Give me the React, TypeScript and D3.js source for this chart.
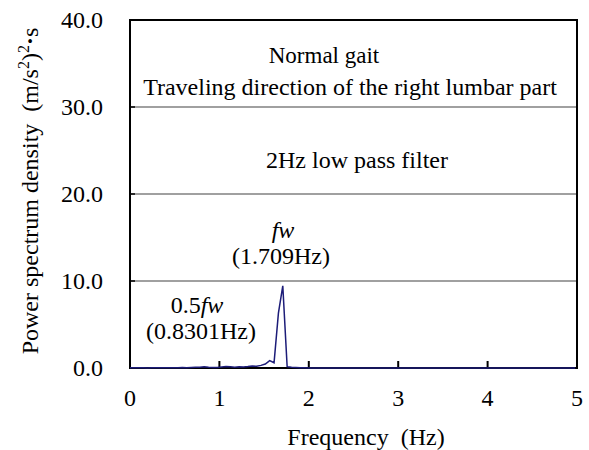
import React from "react";
import { scaleLinear, line } from "d3";

// frequency resolution of the FFT: 100 Hz sampling, 2048 points
const binWidth = 100 / 2048;

// power spectrum density per bin (bin 0 .. 102, up to 5 Hz)
const psdValues = [
  0.02, 0.03, 0.02, 0.02, 0.01, 0.02, 0.03, 0.02, 0.03, 0.04,
  0.03, 0.04, 0.05, 0.04, 0.06, 0.08, 0.1, 0.15, 0.1, 0.07,
  0.06, 0.12, 0.18, 0.15, 0.1, 0.14, 0.12, 0.16, 0.22, 0.2,
  0.3, 0.45, 0.85, 0.6, 6.3, 9.45, 0.15, 0.08, 0.05, 0.03,
  0.02, 0.01, 0.01, 0.01, 0.01, 0.01, 0.01, 0.01, 0.01, 0.01,
  0.01, 0.01, 0.01, 0.01, 0.01, 0.01, 0.01, 0.01, 0.01, 0.01,
  0.01, 0.01, 0.01, 0.01, 0.01, 0.01, 0.01, 0.01, 0.01, 0.01,
  0.01, 0.01, 0.01, 0.01, 0.01, 0.01, 0.01, 0.01, 0.01, 0.01,
  0.01, 0.01, 0.01, 0.01, 0.01, 0.01, 0.01, 0.01, 0.01, 0.01,
  0.01, 0.01, 0.01, 0.01, 0.01, 0.01, 0.01, 0.01, 0.01, 0.01,
  0.01, 0.01, 0.01,
];

const xTicks = [0, 1, 2, 3, 4, 5];
const yTicks = [0, 10, 20, 30, 40];

const font = "'Liberation Serif', 'Times New Roman', serif";

export default function App() {
  const width = 589;
  const height = 450;
  const margin = { top: 20, right: 12, bottom: 82, left: 130 };

  const x = scaleLinear().domain([0, 5]).range([margin.left, width - margin.right]);
  const y = scaleLinear().domain([0, 40]).range([height - margin.bottom, margin.top]);

  const pts = psdValues.map((v, i) => [i * binWidth, v] as [number, number]);
  const path = line<[number, number]>()
    .x((d) => x(d[0]))
    .y((d) => y(d[1]))(pts);

  const fs = 24;

  return (
    <svg
      width={width}
      height={height}
      style={{ position: "absolute", left: 0, top: 0, background: "#fff" }}
      fontFamily={font}
      fontSize={fs}
    >
      {/* grid lines */}
      {yTicks.slice(1, -1).map((t) => (
        <line key={"g" + t} x1={x(0)} x2={x(5)} y1={y(t)} y2={y(t)} stroke="#808080" strokeWidth={1.5} />
      ))}

      {/* y tick marks (inside) */}
      {yTicks.slice(1, -1).map((t) => (
        <line key={"yt" + t} x1={x(0)} x2={x(0) + 5} y1={y(t)} y2={y(t)} stroke="#000" strokeWidth={1.5} />
      ))}
      {/* x tick marks (inside) */}
      {xTicks.slice(1, -1).map((t) => (
        <line key={"xt" + t} x1={x(t)} x2={x(t)} y1={y(0)} y2={y(0) - 7} stroke="#000" strokeWidth={2} />
      ))}

      {/* frame */}
      <rect x={x(0)} y={y(40)} width={x(5) - x(0)} height={y(0) - y(40)} fill="none" stroke="#000" strokeWidth={2} />

      {/* spectrum */}
      <path d={path ?? ""} fill="none" stroke="#1c1c78" strokeWidth={1.5} />

      {/* y tick labels */}
      {yTicks.map((t) => (
        <text key={"yl" + t} x={x(0) - 27} y={y(t)} dy="0.35em" textAnchor="end">
          {t.toFixed(1)}
        </text>
      ))}
      {/* x tick labels */}
      {xTicks.map((t) => (
        <text key={"xl" + t} x={x(t)} y={y(0) + 38} textAnchor="middle">
          {t}
        </text>
      ))}

      {/* axis titles */}
      <text x={366} y={445} textAnchor="middle">
        Frequency{"\u00a0\u00a0"}(Hz)
      </text>
      <text transform="translate(38,191) rotate(-90)" textAnchor="middle">
        Power spectrum density{"\u00a0\u00a0"}(m/s
        <tspan dy={-9} fontSize={16}>2</tspan>
        <tspan dy={9}>)</tspan>
        <tspan dy={-9} fontSize={16}>2</tspan>
        <tspan dy={9} fontWeight="bold">·</tspan>
        <tspan>s</tspan>
      </text>

      {/* annotations */}
      <text x={324} y={63} textAnchor="middle" fontSize={23}>Normal gait</text>
      <text x={350} y={95} textAnchor="middle">Traveling direction of the right lumbar part</text>
      <text x={357} y={168} textAnchor="middle">2Hz low pass filter</text>
      <text x={283} y={238} textAnchor="middle" fontStyle="italic">fw</text>
      <text x={281} y={264} textAnchor="middle">(1.709Hz)</text>
      <text x={197} y={313} textAnchor="middle">
        0.5<tspan fontStyle="italic">fw</tspan>
      </text>
      <text x={201} y={339} textAnchor="middle">(0.8301Hz)</text>
    </svg>
  );
}
